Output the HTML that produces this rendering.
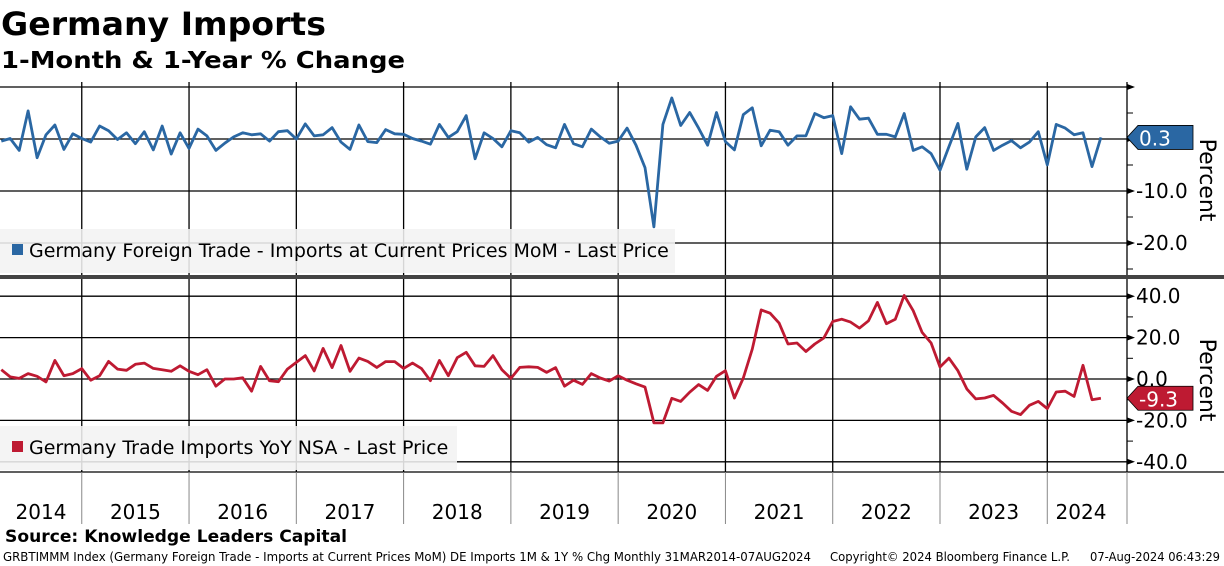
<!DOCTYPE html>
<html><head><meta charset="utf-8"><style>
html,body{margin:0;padding:0;background:#fff;width:1224px;height:566px;overflow:hidden}
svg{display:block;font-family:"DejaVu Sans","Liberation Sans",sans-serif}
</style></head><body>
<svg id="chart" width="1224" height="566" viewBox="0 0 1224 566">
<text x="1" y="35" font-size="32" font-weight="bold" textLength="325" lengthAdjust="spacingAndGlyphs">Germany Imports</text>
<text x="1" y="68" font-size="23" font-weight="bold" textLength="404" lengthAdjust="spacingAndGlyphs">1-Month &amp; 1-Year % Change</text>
<g id="topPanel"></g>
<rect x="0" y="275" width="1224" height="4" fill="#444"/>
<g id="botPanel"></g>
<g id="xaxis"></g>
<text x="5" y="542" font-size="17" font-weight="bold" textLength="342" lengthAdjust="spacingAndGlyphs">Source: Knowledge Leaders Capital</text>
<text x="3" y="561" font-size="12" textLength="808" lengthAdjust="spacingAndGlyphs">GRBTIMMM Index (Germany Foreign Trade - Imports at Current Prices MoM) DE Imports 1M &amp; 1Y % Chg  Monthly 31MAR2014-07AUG2024</text>
<text x="830" y="561" font-size="12" textLength="240" lengthAdjust="spacingAndGlyphs">Copyright© 2024 Bloomberg Finance L.P.</text>
<text x="1090" y="561" font-size="12" textLength="130" lengthAdjust="spacingAndGlyphs">07-Aug-2024 06:43:29</text>
</svg>
<script>
const years = [2014,2015,2016,2017,2018,2019,2020,2021,2022,2023,2024];
const momValues = [-0.4,0.1,-2.2,5.4,-3.6,0.8,2.7,-2.0,1.0,0.1,-0.6,2.5,1.6,-0.1,1.2,-0.9,1.4,-2.1,2.5,-2.9,1.2,-1.8,1.9,0.6,-2.2,-0.8,0.4,1.2,0.8,1.0,-0.4,1.4,1.6,0,2.9,0.6,0.8,2.2,-0.6,-2.0,2.7,-0.5,-0.7,1.8,1.0,0.9,0.1,-0.4,-1.0,2.8,0.3,1.4,4.5,-3.8,1.2,0.1,-1.5,1.6,1.2,-0.6,0.3,-1.1,-1.7,2.8,-0.9,-1.5,1.9,0.4,-0.8,-0.4,2.1,-1.2,-5.5,-16.9,2.8,7.9,2.6,5.1,2.1,-1.2,5.1,-0.5,-2.1,4.7,6.0,-1.3,1.7,1.4,-1.2,0.6,0.6,4.9,4.1,4.5,-2.8,6.2,3.8,4.0,0.9,0.9,0.4,4.9,-2.2,-1.5,-2.8,-6.0,-1.5,3.0,-5.8,0.4,2.2,-2.2,-1.2,-0.3,-1.7,-0.6,1.4,-5.0,2.8,2.1,0.8,1.2,-5.3,0.3];
const yoyValues = [4.5,1.0,0.3,2.6,1.3,-1.4,9.0,1.6,2.6,5.0,-0.6,1.6,8.5,4.8,4.2,7.1,7.7,5.1,4.5,3.7,6.4,3.7,2.1,4.5,-3.5,0,0,0.6,-5.9,6.1,-0.8,-1.3,4.8,8.0,11.3,3.9,14.8,5.5,16.2,3.7,10.1,8.5,5.6,8.4,8.4,5.1,7.7,5.0,-0.8,9.0,1.6,10.3,12.9,6.4,6.1,11.3,4.5,0.3,5.6,5.9,5.6,3.2,5.5,-3.5,-0.6,-2.6,2.6,0.5,-1.0,1.6,-0.6,-2.3,-3.9,-21.2,-21.2,-9.3,-10.8,-6.4,-2.7,-5.5,1.3,4.0,-9.2,0.5,14.5,33.4,31.8,27.0,16.9,17.4,13.3,16.9,19.8,27.8,28.9,27.5,24.6,28.1,37.0,26.7,28.9,40.4,33.0,22.5,17.4,5.8,10.1,4.0,-4.8,-9.6,-9.2,-7.9,-11.6,-15.6,-17.2,-12.7,-10.8,-14.3,-6.3,-5.9,-8.4,6.6,-10.0,-9.3];
const topTicks = [10,0,-10,-20];
const topTickLabels = ["","","-10.0","-20.0"];
const botTicks = [40,20,0,-20,-40];
const botTickLabels = ["40.0","20.0","0.0","-20.0","-40.0"];

const NS="http://www.w3.org/2000/svg";
const svgEl=document.getElementById('chart');
function mk(tag,attrs,parent){const e=document.createElementNS(NS,tag);for(const k in attrs)e.setAttribute(k,attrs[k]);(parent||svgEl).appendChild(e);return e;}
const AX=1127;
const xPos=i=>1.3+8.94*i;
const monthIdx=(y,m)=>(y-2014)*12+(m-3);
const yTop=v=>139-5.2*v;
const yBot=v=>379-2.07*v;

function panel(g,y0,y1,ticks,labels,yf,minorStep,range){
  ticks.forEach((t,k)=>{
    const l=mk('line',{x1:0,x2:AX,y1:yf(t),y2:yf(t),stroke:'#000','stroke-width':1.3},g);
    
    
    const tk=mk('path',{d:`M${AX} ${yf(t)-3} L${AX+8} ${yf(t)} L${AX} ${yf(t)+3}Z`,fill:'#000'},g);
    
    
    if(labels[k]){
      const tx=mk('text',{x:AX+9,y:yf(t)+7,'font-size':20},g);
      tx.textContent=labels[k];
      
      
    }
  });
  for(let v=range[0];v<=range[1];v+=minorStep){
    mk('line',{x1:AX,x2:AX+6,y1:yf(v),y2:yf(v),stroke:'#000','stroke-width':1},g);
  }
  for(let yr=2015;yr<=2024;yr++){
    const xx=xPos(monthIdx(yr-1,12));
    const l=mk('line',{x1:xx,x2:xx,y1:y0,y2:y1,stroke:'#000','stroke-width':1.3},g);
    
    
  }
  const ax=mk('line',{x1:AX,x2:AX,y1:y0,y2:y1,stroke:'#000','stroke-width':1.3},g);
  
  
}
const topG=document.getElementById('topPanel'), botG=document.getElementById('botPanel');
panel(topG,82,275,topTicks,topTickLabels,yTop,5,[-25,10]);
panel(botG,279,472,botTicks,botTickLabels,yBot,10,[-40,40]);

function series(g,vals,yf,color,name){
  const p=mk('polyline',{points:vals.map((v,i)=>xPos(i).toFixed(1)+','+yf(v).toFixed(1)).join(' '),fill:'none',stroke:color,'stroke-width':2.8,'stroke-linejoin':'round'},g);
  
  
}
series(topG,momValues,yTop,'#2a67a3','mom-line');
series(botG,yoyValues,yBot,'#be1a32','yoy-line');

function legend(g,y,w,color,label,name){
  const r=mk('rect',{x:0,y:y,width:w,height:44,fill:'#f2f2f2','fill-opacity':0.88},g);
  
  
  mk('rect',{x:12,y:y+15,width:11,height:11,fill:color},g);
  const t=mk('text',{x:29,y:y+28,'font-size':19},g);
  t.textContent=label;
  
  
}
legend(topG,229,675,'#2a67a3','Germany Foreign Trade - Imports at Current Prices MoM - Last Price','mom-legend');
legend(botG,426,457,'#be1a32','Germany Trade Imports YoY NSA - Last Price','yoy-legend');

function callout(g,v,yf,color,label,name){
  const yy=yf(v);
  const p=mk('path',{d:`M${AX} ${yy} L${AX+11} ${yy-12} L${AX+66} ${yy-12} L${AX+66} ${yy+12} L${AX+11} ${yy+12}Z`,fill:color,stroke:'#000','stroke-width':0.8},g);
  
  
  const t=mk('text',{x:AX+12,y:yy+8,'font-size':20,fill:'#fff'},g);
  t.textContent=label;
}
callout(topG,momValues[momValues.length-1],yTop,'#2a67a3','0.3','mom-last-value');
callout(botG,yoyValues[yoyValues.length-1],yBot,'#be1a32','-9.3','yoy-last-value');

function pct(yc,name){
  const t=mk('text',{x:0,y:0,'font-size':22,transform:`translate(1200,${yc}) rotate(90)`,'text-anchor':'middle'});
  t.textContent='Percent';
  
  
}
pct(180,'mom-y-axis-title');pct(380,'yoy-y-axis-title');

const xg=document.getElementById('xaxis');
mk('line',{x1:0,x2:1224,y1:472,y2:472,stroke:'#000','stroke-width':1.3},xg);
years.forEach(yr=>{
  const xs=yr===2014?0:xPos(monthIdx(yr-1,12));
  const xe=yr===2024?xPos(monthIdx(2024,12)):xPos(monthIdx(yr,12));
  if(yr>2014){mk('line',{x1:xs,x2:xs,y1:472,y2:524,stroke:'#888','stroke-width':1},xg);}
  const t=mk('text',{x:yr===2024?1081:(yr===2014?41:(xs+xe)/2),y:519,'font-size':20,'text-anchor':'middle'},xg);
  t.textContent=yr;
  
  
});
mk('line',{x1:AX,x2:AX,y1:472,y2:524,stroke:'#888','stroke-width':1},xg);
</script>
</body></html>
